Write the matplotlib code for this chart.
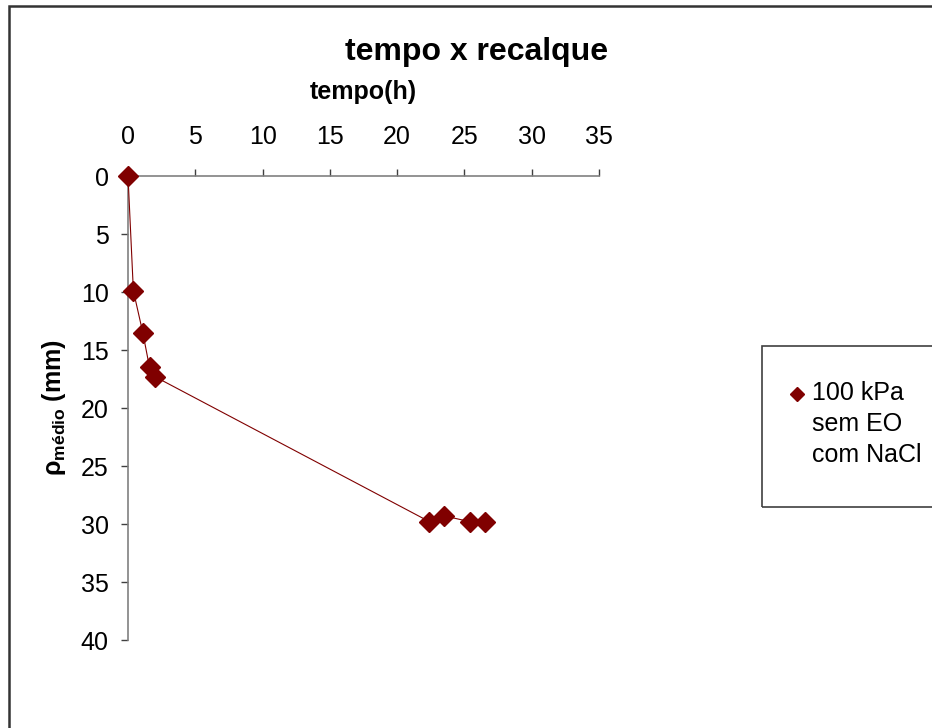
import matplotlib
matplotlib.use("Agg")
from matplotlib import pyplot as plt
from matplotlib.patches import Rectangle
from matplotlib.lines import Line2D

plt.rcParams["font.family"] = ["Liberation Sans", "DejaVu Sans"]
plt.rcParams["mathtext.fontset"] = "custom"
plt.rcParams["mathtext.rm"] = "Liberation Sans"
plt.rcParams["mathtext.bf"] = "Liberation Sans:bold"

# data
tempo_h = [0.0, 0.4, 1.1, 1.6, 2.0, 22.4, 23.5, 25.4, 26.5]
recalque_mm = [0.0, 9.9, 13.5, 16.5, 17.3, 29.8, 29.3, 29.8, 29.8]
serie_label = "100 kPa\nsem EO\ncom NaCl"
x_ticks = [0, 5, 10, 15, 20, 25, 30, 35]
y_ticks = [0, 5, 10, 15, 20, 25, 30, 35, 40]

W, H = 932, 728
cor = "#800000"

fig = plt.figure(figsize=(W / 100, H / 100), dpi=100)
ax = fig.add_axes([128 / W, 1 - 640 / H, (599 - 128) / W, (640 - 176) / H])

ax.plot(tempo_h, recalque_mm, color=cor, lw=0.8, marker="D", ms=10.5,
        markeredgecolor=cor, markerfacecolor=cor, clip_on=False, zorder=3)

ax.set_xlim(0, 35)
ax.set_ylim(40, 0)
ax.set_xticks(x_ticks)
ax.set_yticks(y_ticks)
ax.xaxis.tick_top()
ax.xaxis.set_label_position("top")
for s in ["right", "bottom"]:
    ax.spines[s].set_visible(False)
for s in ["left", "top"]:
    ax.spines[s].set_color("#808080")
    ax.spines[s].set_linewidth(1.2)
ax.tick_params(axis="x", direction="out", length=5, width=1, color="#404040",
               labelsize=18, pad=14.5)
ax.tick_params(axis="y", direction="out", length=5, width=1, color="#404040",
               labelsize=18, pad=9)

ax.set_xlabel("tempo(h)", fontsize=18, fontweight="bold", labelpad=18.5)
ax.set_ylabel(r"ρ$_{\mathbf{médio}}$ (mm)", fontsize=18, fontweight="bold",
              labelpad=9)

fig.text(477 / W, 1 - 52 / H, "tempo x recalque", fontsize=23,
         fontweight="bold", ha="center", va="center")

# legend box (runs past the right edge like the original)
fig.add_artist(Rectangle((762 / W, 1 - 507 / H), 0.3, (507 - 346) / H,
                         transform=fig.transFigure, fill=False,
                         edgecolor="#404040", lw=1.2))
fig.add_artist(Line2D([797 / W], [1 - 394 / H], marker="D", ms=7.5,
                      color=cor, transform=fig.transFigure))
fig.text(812 / W, 1 - 381 / H, serie_label, fontsize=18, ha="left", va="top",
         linespacing=1.38)

# chart area border
fig.add_artist(Rectangle((9 / W, -0.05), 1.1, 1.05 - 6 / H,
                         transform=fig.transFigure, fill=False,
                         edgecolor="#333333", lw=1.8))

fig.savefig("out.png", dpi=100)
